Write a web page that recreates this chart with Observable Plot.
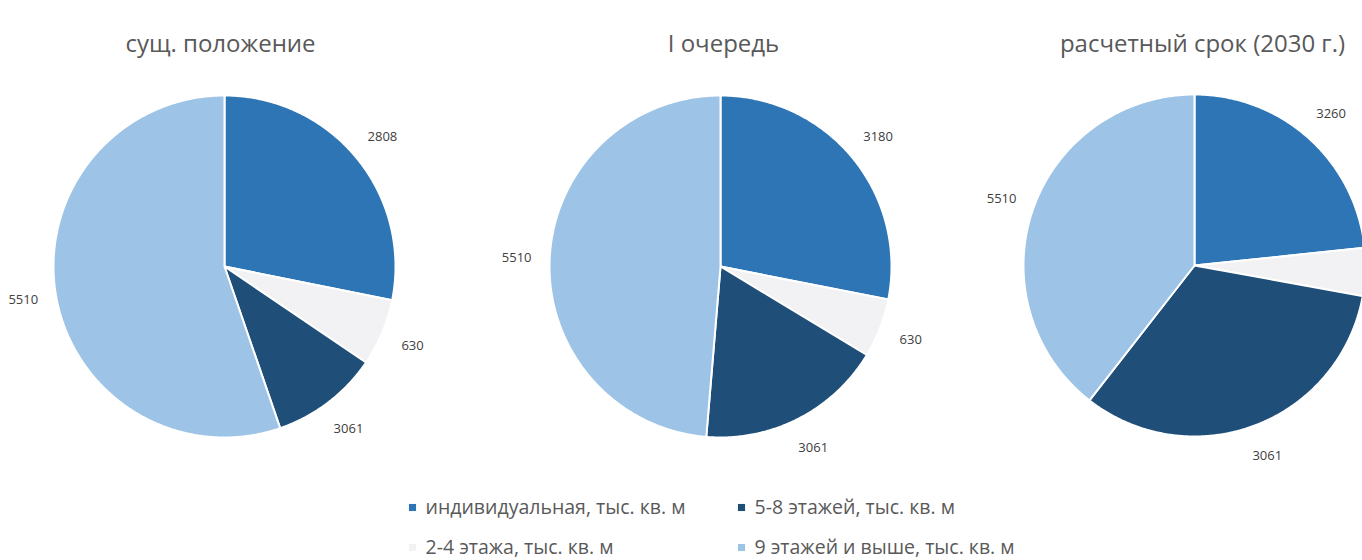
<!DOCTYPE html>
<html>
<head>
<meta charset="utf-8">
<script src="https://cdn.jsdelivr.net/npm/d3@7"></script>
<script src="https://cdn.jsdelivr.net/npm/@observablehq/plot@0.6"></script>
<style>
  html, body { margin: 0; padding: 0; background: #ffffff; }
  #chart { width: 1362px; height: 560px; overflow: hidden; }
</style>
</head>
<body>
<div id="chart"></div>
<script>
// ---- data ----
const periods = ["сущ. положение", "I очередь", "расчетный срок (2030 г.)"];
const categories = [
  "индивидуальная, тыс. кв. м",
  "2-4 этажа, тыс. кв. м",
  "5-8 этажей, тыс. кв. м",
  "9 этажей и выше, тыс. кв. м"
];
// slice sizes as drawn in the picture
const individual = [2808, 3180, 3260];
const lowRise = [630, 630, 630];
const midRise = [1020, 2000, 4560];
const highRise = [5510, 5510, 5510];
// data labels as printed in the picture
const individualLabels = ["2808", "3180", "3260"];
const lowRiseLabels = ["630", "630", "630"];
const midRiseLabels = ["3061", "3061", "3061"];
const highRiseLabels = ["5510", "5510", "5510"];
const colors = ["#2e75b6", "#f2f2f4", "#1f4e79", "#9dc3e6"];

// ---- layout ----
const W = 1362, H = 560;
const centers = [[224, 266], [720, 266], [1194, 265]];
const titleX = [220, 723, 1202];
const R = 171, labelR = 204;

const series = [individual, lowRise, midRise, highRise];
const seriesLabels = [individualLabels, lowRiseLabels, midRiseLabels, highRiseLabels];

const pie = d3.pie().sort(null).value(d => d.value).startAngle(0).endAngle(2 * Math.PI);

const polys = [];   // polygon vertices for slices
const labels = [];  // data labels
periods.forEach((p, pi) => {
  const [cx, cy] = centers[pi];
  const rows = categories.map((c, ci) => ({cat: c, ci, value: series[ci][pi], label: seriesLabels[ci][pi]}));
  pie(rows).forEach(a => {
    const key = p + "|" + a.data.cat;
    const steps = Math.max(2, Math.ceil((a.endAngle - a.startAngle) / (Math.PI / 360)));
    polys.push({key, ci: a.data.ci, x: cx, y: cy});
    for (let i = 0; i <= steps; i++) {
      const t = a.startAngle + (a.endAngle - a.startAngle) * i / steps;
      polys.push({key, ci: a.data.ci, x: cx + R * Math.sin(t), y: cy - R * Math.cos(t)});
    }
    polys.push({key, ci: a.data.ci, x: cx, y: cy});
    const m = (a.startAngle + a.endAngle) / 2;
    labels.push({text: a.data.label, x: cx + labelR * Math.sin(m), y: cy - labelR * Math.cos(m)});
  });
});
// the reference picture is cropped at its right edge: labels beyond it are not visible
const visibleLabels = labels.filter(d => d.x + 15 < W);

const titles = periods.map((p, i) => ({text: p, x: titleX[i], y: 44}));

const legendPos = [[412, 507], [412, 547], [741, 507], [741, 547]];
const legend = categories.map((c, i) => ({text: c, ci: i, x: legendPos[i][0], y: legendPos[i][1]}));

const sliceMarks = categories.map((c, ci) =>
  Plot.line(polys.filter(d => d.ci === ci), {
    x: "x", y: "y", z: "key", fill: colors[ci], stroke: "#ffffff", strokeWidth: 2,
    strokeLinejoin: "round", curve: "linear"
  })
);

const chart = Plot.plot({
  width: W,
  height: H,
  margin: 0,
  x: {domain: [0, W], range: [0, W], axis: null},
  y: {domain: [0, H], range: [0, H], axis: null},
  style: {background: "#ffffff", overflow: "hidden"},
  marks: [
    ...sliceMarks,
    Plot.text(visibleLabels, {x: "x", y: "y", text: "text", fontSize: 13, fill: "#404040",
      fontFamily: "Open Sans, sans-serif", textAnchor: "middle"}),
    Plot.text(titles, {x: "x", y: "y", text: "text", fontSize: 24, fill: "#595959",
      fontFamily: "Open Sans, sans-serif", textAnchor: "middle"}),
    Plot.dot(legend, {x: "x", y: "y", symbol: "square", r: 4,
      fill: d => colors[d.ci], stroke: "none"}),
    Plot.text(legend, {x: d => d.x + 13, y: "y", text: "text", fontSize: 19.5, fill: "#595959",
      fontFamily: "Open Sans, sans-serif", textAnchor: "start"})
  ]
});
document.getElementById("chart").appendChild(chart);
</script>
</body>
</html>
